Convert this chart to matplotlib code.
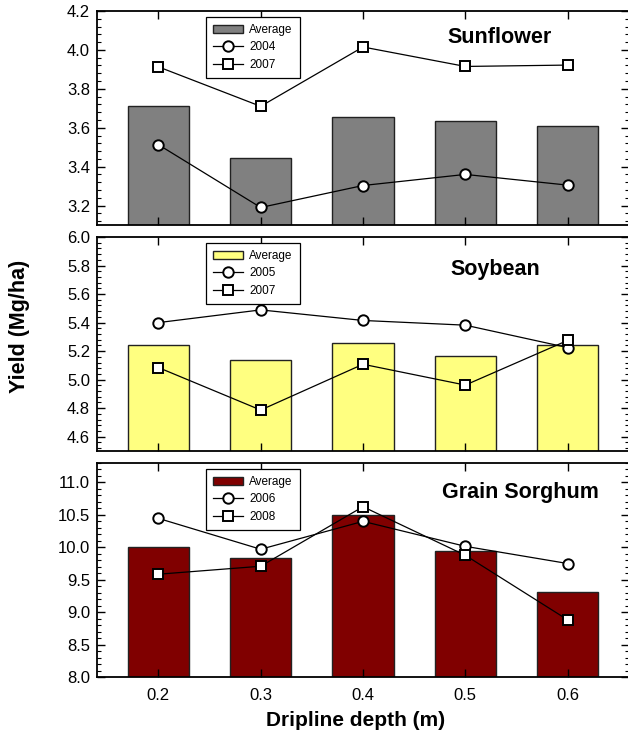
import numpy as np
import matplotlib.pyplot as plt
from matplotlib.ticker import MultipleLocator

plt.rcParams['font.family'] = ['Liberation Sans', 'DejaVu Sans']

# Dados
depth = [0.2, 0.3, 0.4, 0.5, 0.6]

sun_avg = [3.71, 3.445, 3.655, 3.633, 3.61]
sun_2004 = [3.513, 3.19, 3.303, 3.36, 3.305]
sun_2007 = [3.913, 3.71, 4.015, 3.915, 3.922]

soy_avg = [5.24, 5.135, 5.256, 5.167, 5.244]
soy_2005 = [5.40, 5.489, 5.415, 5.382, 5.225]
soy_2007 = [5.085, 4.787, 5.108, 4.962, 5.275]

sor_avg = [10.005, 9.84, 10.503, 9.94, 9.31]
sor_2006 = [10.446, 9.97, 10.40, 10.015, 9.75]
sor_2008 = [9.585, 9.708, 10.626, 9.877, 8.882]

panels = [
    ('Sunflower', sun_avg, sun_2004, sun_2007, '2004', '2007', '#808080', (3.1, 4.2), 0.2, 0.04, 0.757, 0.875),
    ('Soybean', soy_avg, soy_2005, soy_2007, '2005', '2007', '#ffff80', (4.5, 6.0), 0.2, 0.04, 0.748, 0.85),
    ('Grain Sorghum', sor_avg, sor_2006, sor_2008, '2006', '2008', '#800000', (8.0, 11.3), 0.5, 0.1, 0.795, 0.864),
]

fig = plt.figure(figsize=(6.28, 7.38), dpi=100)
W, H = 628.0, 738.0
tops = [11, 237, 463]
for k, p in enumerate(panels):
    name, avg, ya, yb, la, lb, cor, ylim, maj, mnr, tx, ty = p
    ax = fig.add_axes([97 / W, 1 - (tops[k] + 214) / H, 532 / W, 214 / H])
    b = ax.bar(depth, avg, width=0.06, color=cor, edgecolor='#222222', linewidth=1.0, zorder=1)
    l1, = ax.plot(depth, ya, '-o', color='black', lw=0.9, ms=7.5, mfc='white', mec='black', mew=1.4, zorder=3)
    l2, = ax.plot(depth, yb, '-s', color='black', lw=0.9, ms=7.5, mfc='white', mec='black', mew=1.4, zorder=3)
    ax.set_xlim(0.14, 0.66)
    ax.set_ylim(*ylim)
    ax.set_xticks(depth)
    ax.yaxis.set_major_locator(MultipleLocator(maj))
    ax.yaxis.set_minor_locator(MultipleLocator(mnr))
    ax.tick_params(axis='both', which='both', direction='in', top=True, right=True, labelsize=12)
    ax.tick_params(axis='y', which='major', length=6, width=1.0, pad=5)
    ax.tick_params(axis='y', which='minor', length=3, width=0.8)
    ax.tick_params(axis='x', which='major', length=6, width=1.0, pad=8)
    for s in ax.spines.values():
        s.set_linewidth(1.3)
    if k < 2:
        ax.tick_params(axis='x', labelbottom=False)
    ax.text(tx, ty, name, transform=ax.transAxes, ha='center', va='center',
            fontsize=15.5, fontweight='bold')
    leg = ax.legend([b, l1, l2], ['Average', la, lb], loc='upper left',
                    bbox_to_anchor=(0.204, 0.972), borderaxespad=0, fontsize=8.5,
                    frameon=True, fancybox=False, edgecolor='black', framealpha=1,
                    handlelength=2.6, borderpad=0.6, labelspacing=0.45, handletextpad=0.5)
    leg.get_frame().set_linewidth(0.9)

fig.text(20 / W, 1 - 326 / H, 'Yield (Mg/ha)', rotation=90, ha='center', va='center',
         fontsize=15.5, fontweight='bold')
fig.text(356 / W, 1 - 721 / H, 'Dripline depth (m)', ha='center', va='center',
         fontsize=15, fontweight='bold')

fig.savefig('out.png', dpi=100)
